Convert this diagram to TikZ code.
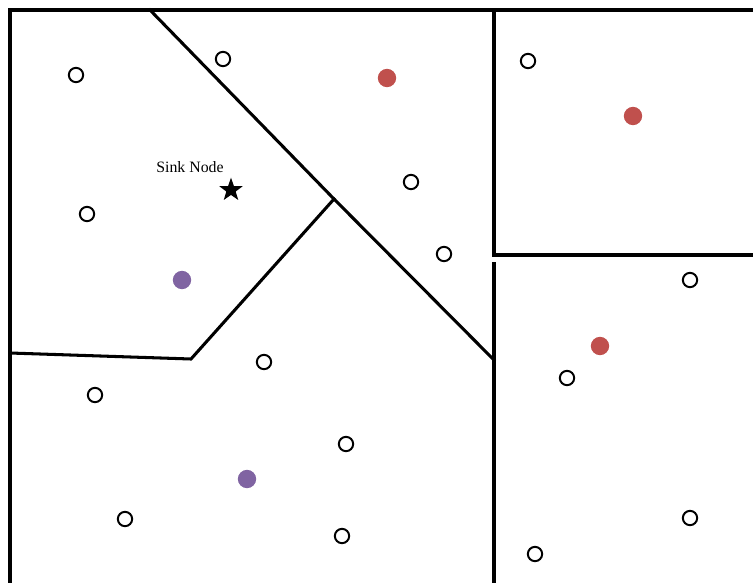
\documentclass[tikz,border=0pt]{standalone}
\usepackage{fontspec}
\setmainfont{Liberation Serif}
\usetikzlibrary{shapes.geometric}
\definecolor{HeadRed}{HTML}{C0504D}
\definecolor{HeadPurple}{HTML}{8064A2}
\tikzset{
  wall/.style={line width=2.6pt, line cap=rect, line join=miter},
  sensor/.style={circle, draw=black, line width=1.7pt, fill=white, minimum size=0.43cm, inner sep=0pt},
  head/.style={circle, fill=#1, minimum size=0.55cm, inner sep=0pt},
  sinkstar/.style={star, star points=5, star point ratio=2.5, fill=black, minimum size=0.74cm, inner sep=0pt}
}

\begin{document}
\begin{tikzpicture}[x=0.03cm, y=-0.03cm]
        \useasboundingbox (0,0) rectangle (753,582);
        % cluster borders
        \coordinate (meet) at (334,199);
        \coordinate (bend) at (191,359);
        \coordinate (gate) at (494,360);
        \draw[wall] (10,582) -- (10,10) -- (760,10);
        \draw[wall] (150,10) -- (meet) -- (gate);
        \draw[wall] (10,353) -- (bend) -- (meet);
        \draw[wall] (494,10) -- (494,255) -- (760,255);
        \draw[wall] (494,264) -- (494,590);
        % ordinary nodes
        \foreach \px/\py [count=\i] in {76/75, 223/59, 87/214, 411/182, 444/254, 528/61, 690/280,
            264/362, 95/395, 567/378, 346/444, 125/519, 342/536, 690/518, 535/554}
          \node[sensor] (s\i) at (\px,\py) {};
        % cluster heads
        \node[head=HeadRed] (hA) at (387,78) {};
        \node[head=HeadRed] (hB) at (633,116) {};
        \node[head=HeadRed] (hC) at (600,346) {};
        \node[head=HeadPurple] (hD) at (182,280) {};
        \node[head=HeadPurple] (hE) at (247,479) {};
        % sink
        \node[sinkstar] (sink) at (231,190) {};
        \node[font=\fontsize{13.5}{15}\selectfont] (sinklabel) at (190,167) {Sink Node};
      \end{tikzpicture}
\end{document}
